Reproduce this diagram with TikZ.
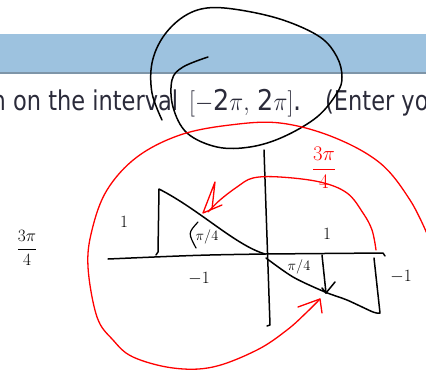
\documentclass[tikz,border=0pt]{standalone}
\usepackage{amsmath}
\usepackage{graphicx}
\usepackage{fontspec}
\setmainfont{DejaVu Sans}
\usetikzlibrary{calc}
\definecolor{bandblue}{HTML}{9DC2DF}
\definecolor{bandline}{HTML}{7E95A8}
\definecolor{inkred}{HTML}{FF0000}
\definecolor{pagetext}{HTML}{2B2B3A}

\begin{document}
\begin{tikzpicture}[x=1pt, y=-1pt,
    ink/.style={line width=1.5pt, line cap=round, line join=round},
    redink/.style={ink, draw=inkred, line width=1.3pt},
    hand/.style={inner sep=0pt, font=\fontsize{17}{20}\selectfont},
    redhand/.style={hand, text=inkred},
    pagefont/.style={anchor=base west, inner sep=0pt, text=pagetext,
      font=\fontsize{22.5}{25}\selectfont}
  ]
  \useasboundingbox (0,0) rectangle (426,370);
  \clip (0,0) rectangle (426,370);

  % page header band and question text
  \fill[bandblue] (0,34) rectangle (426,72);
  \draw[bandline, line width=1.5pt] (0,73) -- (426,73);
  \node[pagefont] (prompt) at (-8.5,110) {\scalebox{1}[1.21]{n on the interval}};
  \node[pagefont] (interval) at (189,110) {\scalebox{1.13}[1.27]{$[-\text{2}\pi,\, \text{2}\pi]$.}};
  \node[pagefont] (enter) at (325,110) {\scalebox{1}[1.21]{(Enter you}};

  % black loop over the text
  \draw[ink] plot[smooth, tension=0.6] coordinates {(208,57) (183,67) (172,80) (173,107)
    (187,133) (217,147) (250,147) (283,137) (317,117) (337,93) (342,77) (337,57)
    (320,37) (283,20) (240,10) (207,8) (183,17) (163,37) (152,63) (152,93) (162,120)};

  % axes
  \coordinate (origin) at (265,254);
  \draw[ink] (108,259) .. controls (200,255) .. (origin) -- (383,253) -- (385,256);
  \draw[ink] (264,150) -- (270,325) -- (267,326);

  % sawtooth pieces
  \draw[ink] (156,255) -- (158,252) -- (159,189) .. controls (200,210) and (235,245) .. (origin);
  \draw[ink] plot[smooth] coordinates {(266,258) (293,277) (325,292) (347,300) (373,312) (380,313)}
    -- (374,258);

  % black arrow down
  \coordinate (downtip) at (326,293);
  \draw[ink] (322,255) -- (downtip);
  \draw[ink] (322,288) -- (downtip) -- (335,282);

  % small angle arc
  \draw[ink, line width=1.2pt] (198,222) .. controls (188,233) .. (196,248);

  % labels
  \node[hand] (oneleft) at (124,222) {$1$};
  \node[hand] (minusoneleft) at (199,279) {$-1$};
  \node[hand] (oneright) at (327,234) {$1$};
  \node[hand] (minusoneright) at (401,277) {$-1$};
  \node[hand, font=\fontsize{15}{18}\selectfont] (angleleft) at (207,237) {$\pi/4$};
  \node[hand, font=\fontsize{15}{18}\selectfont] (angleright) at (299,267) {$\pi/4$};
  \node[hand, font=\fontsize{19}{22}\selectfont] (sidelabel) at (27,248) {$\dfrac{3\pi}{4}$};
  \node[redhand, font=\fontsize{20}{23}\selectfont] (redlabel) at (324,168) {$\dfrac{3\pi}{4}$};

  % big red circle with arrow
  \coordinate (bigtip) at (320,299);
  \draw[redink] plot[smooth, tension=0.6] coordinates {(428,236) (410,200) (380,163)
    (333,137) (280,123) (230,125) (180,135) (137,157) (107,190) (92,230) (88,267)
    (97,317) (113,340) (133,357) (173,368) (213,367) (257,350) (287,330) (307,312) (bigtip)};
  \draw[redink] (298,307) -- (bigtip) -- (322,313);

  % inner red arc with arrow
  \coordinate (arctip) at (208,212);
  \draw[redink] plot[smooth, tension=0.6] coordinates {(376,250) (372,230) (363,213)
    (347,193) (320,182) (280,177) (253,178) (237,187) (220,200) (arctip)};
  \draw[redink] (222,205) -- (203,213) -- (215,182) -- (212,209);
\end{tikzpicture}
\end{document}
